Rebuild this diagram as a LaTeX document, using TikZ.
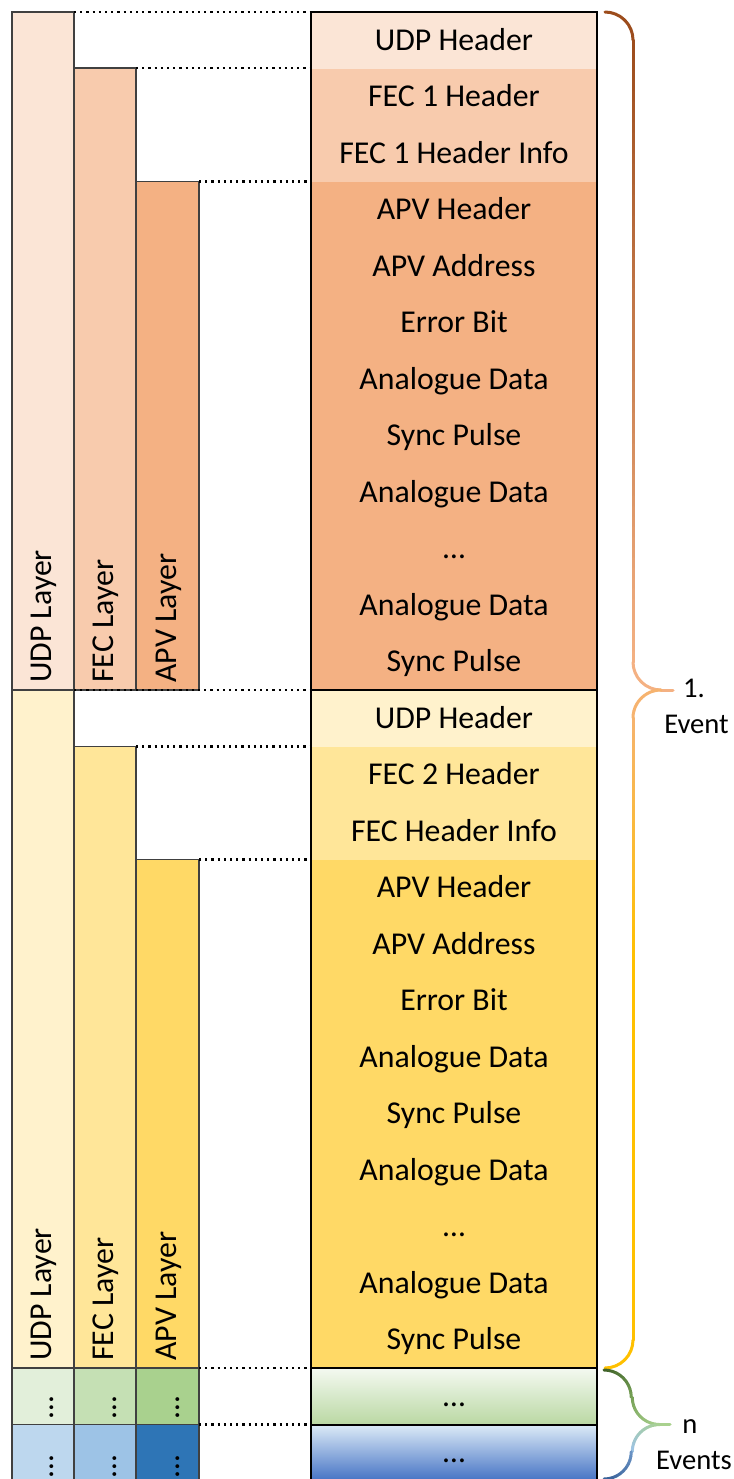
\documentclass[tikz,border=0pt]{standalone}
\usepackage{fontspec}
\setmainfont{Carlito}
\definecolor{O1}{HTML}{FBE5D6}
\definecolor{O2}{HTML}{F8CBAD}
\definecolor{O3}{HTML}{F4B183}
\definecolor{Y1}{HTML}{FFF2CC}
\definecolor{Y2}{HTML}{FFE699}
\definecolor{Y3}{HTML}{FFD966}
\definecolor{G1}{HTML}{E2EFDA}
\definecolor{G2}{HTML}{C5E0B4}
\definecolor{G3}{HTML}{A9D18E}
\definecolor{B1}{HTML}{BDD7EE}
\definecolor{B2}{HTML}{9DC3E6}
\definecolor{B3}{HTML}{2E75B6}
\definecolor{colline}{HTML}{404040}
\definecolor{BrTop}{HTML}{9C4C1C}
\definecolor{BrMid}{HTML}{F4B183}
\definecolor{BrGold}{HTML}{FFC000}
\definecolor{GrDark}{HTML}{3D5F27}
\definecolor{GrMid}{HTML}{75A055}
\definecolor{GrLight}{HTML}{A9D18E}
\definecolor{BlLight}{HTML}{9DC3E6}
\definecolor{BlMid}{HTML}{6C95C6}
\definecolor{BlDark}{HTML}{355E96}
\definecolor{GrTopRow}{HTML}{F4F9F1}
\definecolor{GrBotRow}{HTML}{BAD8A3}
\definecolor{BlTopRow}{HTML}{DDEBF7}
\definecolor{BlMidRow}{HTML}{A9C8EA}
\definecolor{BlBotRow}{HTML}{4472C4}
\newcommand\GradArc[8]{%
  \foreach \k in {1,...,#8}{%
    \pgfmathsetmacro\angA{#4+(#5-(#4))/#8*(\k-1)}%
    \pgfmathsetmacro\angB{#4+(#5-(#4))/#8*(\k)}%
    \pgfmathtruncatemacro\pp{round(100-100*(\k-0.5)/#8)}%
    \draw[bracestroke, draw=#6!\pp!#7] ({#1+#3*cos(\angA)},{#2+#3*sin(\angA)}) arc[start angle=\angA, end angle=\angB, radius=#3];
  }}
\newcommand\GradLine[6]{%
  \foreach \k in {1,...,#6}{%
    \pgfmathsetmacro\ya{#2+(#3-(#2))/#6*(\k-1)}%
    \pgfmathsetmacro\yb{#2+(#3-(#2))/#6*(\k)}%
    \pgfmathtruncatemacro\pp{round(100-100*(\k-0.5)/#6)}%
    \draw[bracestroke, draw=#4!\pp!#5] (#1,\ya) -- (#1,\yb);
  }}
\begin{document}
\begin{tikzpicture}[x=0.5pt,y=-0.5pt,
  rowtext/.style={anchor=base, inner sep=0pt, font=\fontsize{15.9}{19}\selectfont},
  layertext/.style={rotate=90, anchor=west, inner sep=0pt, font=\fontsize{15.9}{19}\selectfont},
  vdotstext/.style={rotate=90, anchor=base, inner sep=0pt, font=\fontsize{15.9}{19}\selectfont},
  labeltext/.style={anchor=base, inner sep=0pt, font=\fontsize{14.3}{17}\selectfont},
  colbox/.style={draw=colline, line width=0.75pt},
  boxline/.style={draw=black, line width=1pt},
  dotline/.style={draw=black, line width=1.25pt, dash pattern=on 1.1pt off 2pt},
  bracestroke/.style={line width=1.5pt, line cap=round}]
\useasboundingbox (0,0) rectangle (734,1479);

% ---------- right column: fills ----------
\fill[O1] (311,12) rectangle (597,68.5);
\fill[O2] (311,68.5) rectangle (597,181.5);
\fill[O3] (311,181.5) rectangle (597,690);
\fill[Y1] (311,690) rectangle (597,746.5);
\fill[Y2] (311,746.5) rectangle (597,859.5);
\fill[Y3] (311,859.5) rectangle (597,1368);
\shade[top color=GrTopRow, bottom color=GrBotRow] (311,1368) rectangle (597,1424.5);
\shade[top color=BlTopRow, middle color=BlMidRow, bottom color=BlBotRow] (311,1424.5) rectangle (597,1481);

% ---------- right column: outline ----------
\draw[boxline] (311,1481) -- (311,12) -- (597,12) -- (597,1481);
\draw[boxline] (311,690) -- (597,690);
\draw[boxline] (311,1368) -- (597,1368);
\draw[boxline] (311,1424.5) -- (597,1424.5);

% ---------- right column: texts ----------
\foreach \t [count=\i from 0] in {UDP Header, FEC 1 Header, FEC 1 Header Info, APV Header, APV Address, Error Bit, Analogue Data, Sync Pulse, Analogue Data, …, Analogue Data, Sync Pulse, UDP Header, FEC 2 Header, FEC Header Info, APV Header, APV Address, Error Bit, Analogue Data, Sync Pulse, Analogue Data, …, Analogue Data, Sync Pulse, …, …}{
  \node[rowtext] (r\i) at (454,{50.25+56.5*\i}) {\t};
}

% ---------- left layer columns ----------
\filldraw[fill=O1, colbox] (12,12) rectangle (74,690);
\filldraw[fill=O2, colbox] (74,68) rectangle (136,690);
\filldraw[fill=O3, colbox] (136,181.5) rectangle (199,690);
\filldraw[fill=Y1, colbox] (12,690) rectangle (74,1368);
\filldraw[fill=Y2, colbox] (74,746.5) rectangle (136,1368);
\filldraw[fill=Y3, colbox] (136,859.5) rectangle (199,1368);
\filldraw[fill=G1, colbox] (12,1368) rectangle (74,1424.5);
\filldraw[fill=G2, colbox] (74,1368) rectangle (136,1424.5);
\filldraw[fill=G3, colbox] (136,1368) rectangle (199,1424.5);
\filldraw[fill=B1, colbox] (12,1424.5) rectangle (74,1481);
\filldraw[fill=B2, colbox] (74,1424.5) rectangle (136,1481);
\filldraw[fill=B3, colbox] (136,1424.5) rectangle (199,1481);

\node[layertext] (udp1) at (44,683) {UDP Layer};
\node[layertext] (fec1) at (106,683) {FEC Layer};
\node[layertext] (apv1) at (168.5,683) {APV Layer};
\node[layertext] (udp2) at (44,1361) {UDP Layer};
\node[layertext] (fec2) at (106,1361) {FEC Layer};
\node[layertext] (apv2) at (168.5,1361) {APV Layer};

\node[vdotstext] (gu) at (54,1408) {…};
\node[vdotstext] (gf) at (116,1408) {…};
\node[vdotstext] (ga) at (179,1408) {…};
\node[vdotstext] (bu) at (54,1466.5) {…};
\node[vdotstext] (bf) at (116,1466.5) {…};
\node[vdotstext] (ba) at (179,1466.5) {…};

% ---------- dotted guide lines ----------
\coordinate (d1a) at (74,12);     \coordinate (d1b) at (311,12);
\coordinate (d2a) at (136,68);    \coordinate (d2b) at (311,68);
\coordinate (d3a) at (199,181.5); \coordinate (d3b) at (311,181.5);
\coordinate (d4a) at (74,690);    \coordinate (d4b) at (311,690);
\coordinate (d5a) at (136,746.5); \coordinate (d5b) at (311,746.5);
\coordinate (d6a) at (199,859.5); \coordinate (d6b) at (311,859.5);
\coordinate (d7a) at (199,1368);  \coordinate (d7b) at (311,1368);
\coordinate (d8a) at (199,1424.5);\coordinate (d8b) at (311,1424.5);
\foreach \n in {1,...,8}{\draw[dotline] (d\n a) -- (d\n b);}

% ---------- brace 1 ----------
\GradArc{605}{40}{28}{-90}{0}{BrTop}{BrTop}{4}
\GradLine{633}{40}{662}{BrTop}{BrMid}{60}
\GradArc{661}{662}{28}{180}{90}{BrMid}{BrMid}{4}
\draw[bracestroke, draw=BrMid] (661,690) -- (673,690);
\GradArc{661}{718}{28}{270}{180}{BrMid}{BrMid!85!BrGold}{6}
\GradLine{633}{718}{960}{BrMid!85!BrGold}{BrGold}{30}
\draw[bracestroke, draw=BrGold] (633,960) -- (633,1340);
\GradArc{605}{1340}{28}{0}{90}{BrGold}{BrGold}{4}
\node[labeltext] (ev1a) at (694,697) {1.};
\node[labeltext] (ev1b) at (696.5,733) {Event};

% ---------- brace 2 ----------
\GradArc{604}{1397.25}{27.25}{-90}{0}{GrDark}{GrMid}{10}
\GradArc{659.5}{1397.25}{27.25}{180}{90}{GrMid}{GrLight}{10}
\draw[bracestroke, draw=GrLight] (659.5,1424.5) -- (670,1424.5);
\GradArc{659.5}{1451.75}{27.25}{270}{180}{GrLight}{BlLight}{10}
\GradArc{604}{1451.75}{27.25}{0}{90}{BlMid}{BlDark}{10}
\node[labeltext] (ev2a) at (690,1433) {n};
\node[labeltext] (ev2b) at (694,1469) {Events};
\end{tikzpicture}
\end{document}
